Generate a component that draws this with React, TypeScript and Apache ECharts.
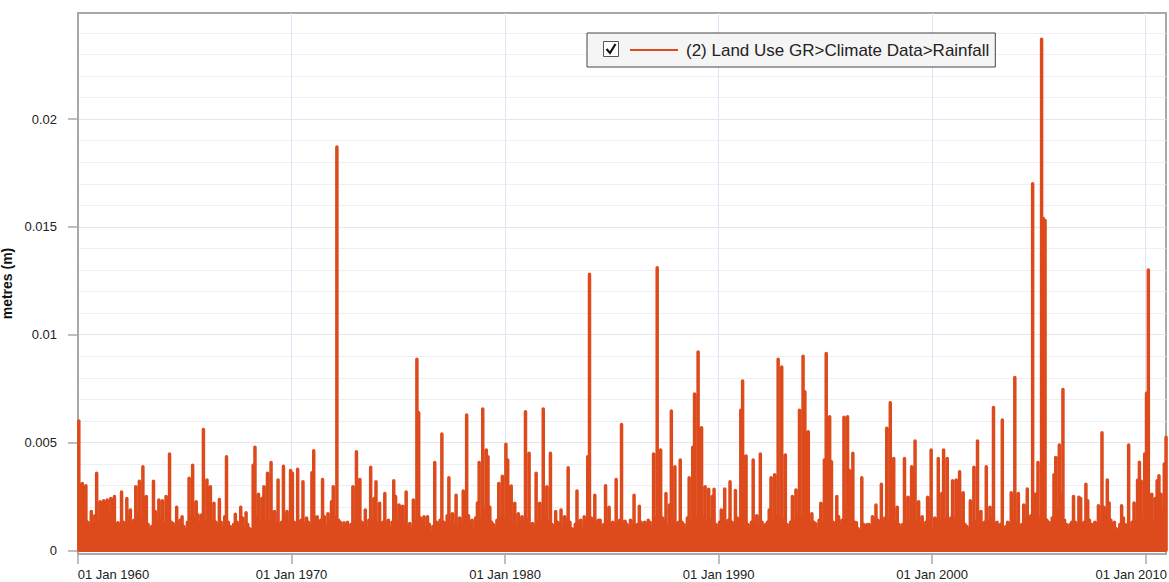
import React, { useEffect, useRef } from "react";
import * as echarts from "echarts";

// Monthly peak daily rainfall, in millimetres (plotted in metres).
const START_YEAR = 1960;
const MM_TO_M = 0.001;

const rain1960s = [
  6.0, 1.5, 3.1, 2.9, 3.0, 1.3, 1.1, 1.8, 1.2, 1.6, 3.57, 1.3,
  2.25, 1.3, 2.3, 2.2, 2.33, 1.6, 2.4, 2.35, 2.5, 1.2, 1.28, 1.1,
  2.7, 1.3, 1.1, 2.4, 1.5, 1.87, 1.2, 1.4, 2.95, 1.7, 3.2, 1.5,
  3.88, 1.6, 2.5, 1.2, 0.94, 1.1, 3.2, 1.8, 1.3, 2.33, 1.4, 2.3,
  1.2, 2.5, 1.3, 4.47, 1.3, 1.25, 1.0, 2.0, 1.2, 1.4, 1.56, 1.1,
  0.9, 1.3, 3.34, 1.5, 3.95, 1.4, 2.25, 1.64, 1.2, 1.64, 5.6, 1.3,
  3.26, 1.4, 2.95, 1.3, 2.18, 1.3, 1.1, 2.36, 1.3, 1.0, 1.56, 4.34,
  1.3, 1.1, 0.9, 1.2, 1.67, 1.3, 1.1, 2.0, 1.5, 1.0, 1.74, 1.2,
  1.0, 0.9, 3.95, 4.78, 1.5, 2.6, 1.3, 2.4, 2.95, 1.4, 3.57, 1.3,
  4.07, 1.4, 1.8, 1.2, 3.26, 1.1, 1.3, 3.9, 1.5, 1.8, 1.2, 3.7,
];
const rain1970s = [
  3.57, 1.3, 1.2, 3.76, 1.3, 1.4, 3.18, 1.2, 1.5, 1.3, 1.1, 3.6,
  4.62, 1.3, 1.56, 1.2, 1.4, 3.29, 1.56, 1.1, 1.7, 1.3, 2.25, 2.95,
  1.5, 18.7, 1.4, 1.3, 1.0, 1.28, 1.1, 1.3, 0.9, 1.2, 2.95, 1.3,
  4.57, 1.4, 3.29, 1.3, 1.2, 1.87, 1.0, 1.4, 3.85, 1.3, 2.4, 3.18,
  1.2, 2.18, 1.1, 1.3, 2.64, 1.2, 1.4, 1.0, 1.3, 3.23, 2.5, 1.2,
  2.1, 1.3, 2.05, 1.2, 2.7, 1.1, 1.25, 1.0, 2.33, 1.3, 8.86, 6.38,
  1.5, 1.2, 1.56, 1.0, 1.56, 1.2, 0.8, 1.1, 4.07, 1.3, 1.2, 1.4,
  5.4, 1.3, 1.0, 1.6, 3.37, 1.2, 1.7, 1.1, 2.56, 1.0, 1.5, 1.2,
  2.75, 1.3, 6.28, 1.6, 1.2, 1.4, 1.0, 1.5, 2.2, 4.07, 1.4, 6.55,
  1.8, 4.65, 4.34, 2.0, 1.3, 1.2, 1.0, 1.4, 3.1, 1.5, 3.44, 1.4,
];
const rain1980s = [
  4.92, 4.19, 1.5, 2.98, 1.2, 2.18, 1.1, 1.7, 1.3, 1.56, 1.2, 6.43,
  1.4, 4.5, 1.2, 1.25, 1.0, 3.57, 1.3, 2.18, 1.2, 6.55, 1.5, 2.95,
  1.3, 4.5, 1.2, 1.1, 1.8, 1.3, 1.2, 1.87, 1.0, 1.56, 1.2, 3.83,
  1.3, 1.0, 0.9, 1.2, 2.75, 1.1, 1.4, 1.0, 1.56, 1.2, 4.34, 12.8,
  1.5, 1.3, 2.56, 1.2, 1.4, 1.4, 1.0, 1.2, 3.0, 1.3, 2.0, 1.2,
  1.3, 1.0, 3.29, 1.2, 1.4, 5.84, 1.3, 1.35, 1.2, 1.0, 1.4, 1.1,
  2.56, 1.0, 1.2, 2.05, 1.3, 1.1, 1.3, 1.2, 1.4, 1.3, 1.0, 4.47,
  1.5, 13.1, 1.8, 4.65, 1.5, 1.3, 2.64, 1.1, 2.1, 6.46, 1.4, 3.88,
  1.2, 1.3, 4.19, 1.3, 1.2, 1.0, 1.5, 3.37, 1.4, 4.78, 7.25, 1.5,
  9.2, 2.0, 5.69, 1.5, 2.95, 1.3, 2.83, 1.4, 2.5, 2.83, 1.2, 1.0,
];
const rain1990s = [
  1.3, 1.87, 1.1, 2.84, 1.2, 1.4, 3.18, 1.3, 1.1, 2.77, 1.5, 1.4,
  6.5, 7.85, 1.4, 4.37, 1.2, 1.0, 1.3, 4.19, 1.2, 1.6, 1.1, 4.47,
  1.3, 1.0, 1.2, 1.3, 1.87, 3.37, 1.4, 3.5, 1.6, 8.86, 1.5, 8.5,
  1.4, 4.42, 1.2, 1.0, 1.3, 2.5, 1.2, 2.8, 1.5, 6.5, 1.5, 9.0,
  7.35, 1.5, 5.5, 1.2, 1.7, 1.3, 1.25, 1.0, 1.4, 2.18, 1.2, 4.19,
  9.13, 1.5, 6.2, 4.11, 1.3, 1.2, 2.5, 1.56, 1.2, 1.4, 6.17, 1.8,
  6.2, 3.7, 1.2, 4.5, 1.3, 1.28, 1.0, 0.9, 3.37, 1.2, 1.1, 1.2,
  1.2, 1.0, 1.56, 1.2, 2.1, 1.4, 1.3, 3.07, 1.2, 1.5, 5.66, 1.4,
  6.85, 1.5, 4.26, 1.3, 2.0, 1.2, 1.0, 1.2, 4.26, 1.3, 2.46, 1.2,
  3.88, 1.4, 5.07, 1.3, 2.25, 1.2, 1.56, 1.1, 1.3, 2.46, 1.3, 4.65,
];
const rain2000s = [
  0.9, 1.5, 1.2, 4.26, 1.3, 2.64, 4.65, 1.4, 4.26, 1.3, 1.5, 3.23,
  1.4, 3.26, 1.3, 3.64, 1.4, 2.67, 1.2, 1.1, 0.9, 2.3, 1.2, 3.85,
  1.3, 5.07, 1.4, 1.8, 1.2, 1.3, 3.88, 1.3, 2.0, 1.5, 6.63, 1.2,
  1.3, 1.1, 1.2, 6.04, 1.0, 1.1, 1.3, 1.2, 2.67, 1.5, 8.02, 1.2,
  2.64, 1.0, 1.2, 2.1, 1.4, 2.84, 1.5, 1.6, 17.0, 2.6, 2.6, 4.07,
  1.5, 23.7, 15.4, 15.3, 1.4, 1.3, 1.2, 1.5, 3.5, 4.31, 1.8, 4.88,
  2.5, 7.46, 1.4, 1.2, 0.9, 1.2, 1.3, 2.5, 1.3, 1.1, 2.46, 2.4,
  1.2, 1.3, 3.07, 2.3, 1.4, 1.2, 1.2, 1.3, 1.2, 2.07, 1.4, 5.45,
  2.0, 1.3, 3.26, 2.2, 1.4, 1.2, 1.3, 1.0, 0.9, 1.2, 2.07, 1.5,
  1.2, 1.0, 4.88, 1.0, 1.3, 2.2, 1.3, 3.25, 4.08, 3.2, 1.4, 4.47,
];
const rain2010s = [7.28, 13.0, 1.5, 2.6, 1.3, 2.4, 3.23, 3.46, 2.6, 1.8, 4.0, 5.24];

const yLabelValues = [0, 0.005, 0.01, 0.015, 0.02];
const yMinorGridValues = [
  0.001, 0.002, 0.003, 0.004, 0.006, 0.007, 0.008, 0.009, 0.011, 0.012, 0.013, 0.014,
  0.016, 0.017, 0.018, 0.019, 0.021, 0.022, 0.023, 0.024,
];
const xTickYears = [1960, 1970, 1980, 1990, 2000, 2010];
const MONTHS = ["Jan", "Feb", "Mar", "Apr", "May", "Jun", "Jul", "Aug", "Sep", "Oct", "Nov", "Dec"];
const SERIES_NAME = "(2) Land Use GR>Climate Data>Rainfall";

const FONT = "Liberation Sans, Arial, sans-serif";
const AXIS_GRAY = "#a8a8a8";
const RAIN_COLOR = "#dd4b1d";

function fmtDate(v: number): string {
  const d = new Date(v);
  return `${String(d.getDate()).padStart(2, "0")} ${MONTHS[d.getMonth()]} ${d.getFullYear()}`;
}

export default function App() {
  const ref = useRef<HTMLDivElement>(null);

  useEffect(() => {
    document.body.style.margin = "0";
    if (!ref.current) return;
    const chart = echarts.init(ref.current, undefined, { renderer: "svg" });

    const monthly = [...rain1960s, ...rain1970s, ...rain1980s, ...rain1990s, ...rain2000s, ...rain2010s];
    const lineData: [number, number][] = [];
    monthly.forEach((mm, i) => {
      const t = new Date(START_YEAR, i, 15).getTime();
      lineData.push([t, 0], [t, mm * MM_TO_M], [t, 0]);
    });

    const xTicks = xTickYears.map((y) => new Date(y, 0, 1).getTime());
    const yMin = -0.00017;
    const yMax = 0.02492;

    chart.setOption({
      animation: false,
      grid: {
        left: 78,
        right: 3,
        top: 13,
        bottom: 28,
        show: true,
        borderColor: AXIS_GRAY,
        borderWidth: 2,
        backgroundColor: "transparent",
        outerBoundsMode: "none",
        containLabel: false,
      },
      legend: {
        data: [{ name: SERIES_NAME, icon: "rect" }],
        left: 587,
        top: 33,
        padding: [7, 6, 7, 43],
        backgroundColor: "rgba(244,244,244,0.92)",
        borderColor: "#444444",
        borderWidth: 1,
        itemWidth: 48,
        itemHeight: 2,
        selectedMode: false,
        itemStyle: { color: RAIN_COLOR, borderWidth: 0 },
        textStyle: { fontFamily: FONT, fontSize: 17, lineHeight: 20, color: "#222222", padding: [0, 0, 0, 3] },
      },
      graphic: [
        {
          type: "rect",
          z: 100,
          shape: { x: 603.5, y: 41.5, width: 15, height: 15 },
          style: { fill: "#ffffff", stroke: "#555555", lineWidth: 1 },
        },
        {
          type: "polyline",
          z: 101,
          shape: { points: [[606.5, 49], [610, 53], [615.5, 44]] },
          style: { stroke: "#111111", lineWidth: 2.2, fill: null },
        },
      ],
      xAxis: {
        type: "value",
        min: new Date(1960, 0, 1).getTime(),
        max: new Date(2010, 11, 14).getTime(),
        axisLine: { show: true, onZero: false, lineStyle: { color: AXIS_GRAY, width: 2 } },
        axisTick: { show: true, customValues: xTicks, length: 10, lineStyle: { color: AXIS_GRAY, width: 1.5 } },
        axisLabel: {
          customValues: xTicks,
          margin: 14,
          fontFamily: FONT,
          fontSize: 13,
          lineHeight: 13,
          color: "#222222",
          formatter: (v: number) => {
            const s = fmtDate(v);
            const y = new Date(v).getFullYear();
            if (y === xTickYears[0]) return `{first|${s}}`;
            if (y === xTickYears[xTickYears.length - 1]) return `{last|${s}}`;
            return s;
          },
          rich: {
            first: { padding: [0, 0, 0, 71], fontFamily: FONT, fontSize: 13, lineHeight: 13, color: "#222222" },
            last: { padding: [0, 29, 0, 0], fontFamily: FONT, fontSize: 13, lineHeight: 13, color: "#222222" },
          },
        },
        splitLine: { show: true, lineStyle: { color: "#e2e2f5", width: 1 } },
      },
      yAxis: [
        {
          type: "value",
          min: yMin,
          max: yMax,
          position: "left",
          name: "metres (m)",
          nameLocation: "middle",
          nameRotate: 90,
          nameGap: 60,
          nameTextStyle: { fontFamily: FONT, fontSize: 14, fontWeight: "bold", color: "#111111" },
          axisLine: { show: true, onZero: false, lineStyle: { color: AXIS_GRAY, width: 2 } },
          axisTick: { show: true, customValues: yLabelValues, length: 10, lineStyle: { color: AXIS_GRAY, width: 1.5 } },
          axisLabel: {
            customValues: yLabelValues,
            margin: 21,
            fontFamily: FONT,
            fontSize: 13,
            color: "#222222",
            formatter: (v: number) => String(v),
          },
          splitLine: { show: true, lineStyle: { color: "#e4e4f3", width: 1 } },
        },
        {
          type: "value",
          min: yMin,
          max: yMax,
          position: "left",
          axisLine: { show: false, onZero: false },
          axisTick: { show: false, customValues: yMinorGridValues },
          axisLabel: { show: false },
          splitLine: { show: true, lineStyle: { color: "#eeeef8", width: 1 } },
        },
      ],
      series: [
        {
          name: SERIES_NAME,
          type: "line",
          xAxisIndex: 0,
          yAxisIndex: 0,
          data: lineData,
          symbol: "none",
          showSymbol: false,
          color: RAIN_COLOR,
          lineStyle: { color: RAIN_COLOR, width: 3.5, cap: "round", join: "round" },
          z: 5,
        },
      ],
    });

    return () => chart.dispose();
  }, []);

  return <div ref={ref} style={{ width: 1169, height: 582 }} />;
}
